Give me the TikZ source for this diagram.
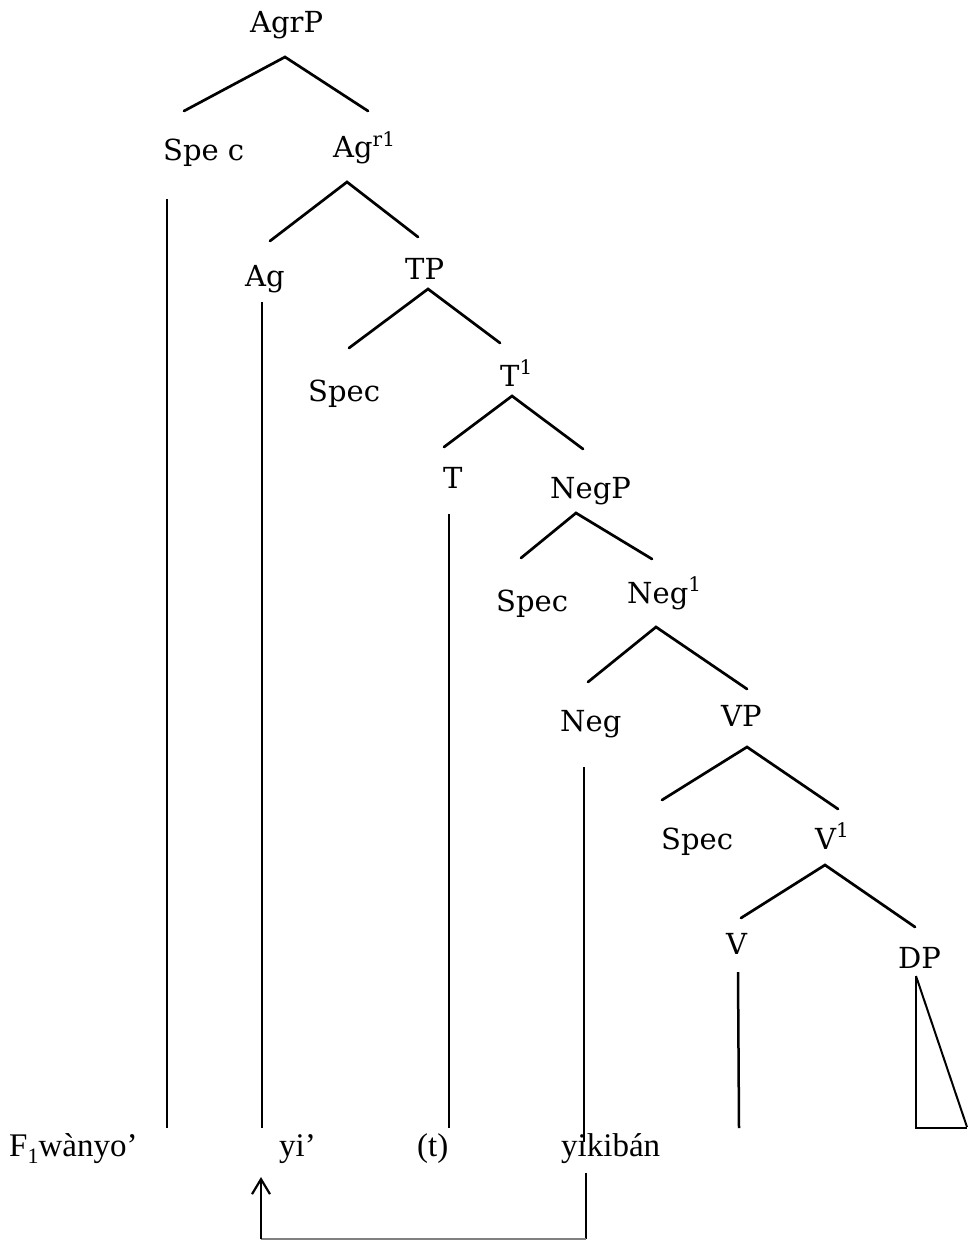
\documentclass[tikz,border=0pt]{standalone}
\usepackage{fontspec}
\setmainfont{DejaVu Serif}
\newfontfamily\glossfont{Liberation Serif}
\usetikzlibrary{arrows.meta}

% small raised / lowered index digits
\newcommand\hisup[1]{\raisebox{.40em}{\fontsize{20}{20}\selectfont #1}}
\newcommand\losub[1]{\raisebox{-.22em}{\fontsize{22}{22}\selectfont #1}}

\tikzset{
  cat/.style={anchor=base west, inner sep=0pt, font=\fontsize{29}{33}\selectfont},
  gloss/.style={anchor=base west, inner sep=0pt, font=\glossfont\fontsize{33}{38}\selectfont},
  branch/.style={line width=2.7pt, line cap=round, line join=miter},
  stem/.style={line width=2.5pt},
  movement/.style={line width=2.2pt},
}

\begin{document}
\begin{tikzpicture}[x=1pt, y=-1pt]
\useasboundingbox (0,0) rectangle (967,1241);

% category labels
\node[cat] (agrp)  at (250, 33)  {AgrP};
\node[cat] (specA) at (163,161)  {Spe c};
\node[cat] (agr1)  at (333,158)  {Ag\hisup{r1}};
\node[cat] (ag)    at (245,286)  {Ag};
\node[cat] (tp)    at (405,279)  {TP};
\node[cat] (specT) at (308,401)  {Spec};
\node[cat] (t1)    at (500,386)  {T\hisup{1}};
\node[cat] (t)     at (443,488)  {T};
\node[cat] (negp)  at (550,498)  {NegP};
\node[cat] (specN) at (496,611)  {Spec};
\node[cat] (neg1)  at (627,603)  {Neg\hisup{1}};
\node[cat] (neg)   at (560,731)  {Neg};
\node[cat] (vp)    at (721,726)  {VP};
\node[cat] (specV) at (661,849)  {Spec};
\node[cat] (v1)    at (815,849)  {V\hisup{1}};
\node[cat] (v)     at (726,954)  {V};
\node[cat] (dp)    at (898,968)  {DP};

% terminal words
\node[gloss] (w1) at (  9,1156) {F\losub{1}wànyo’};
\node[gloss] (w2) at (279,1156) {yi’};
\node[gloss] (w3) at (417,1156) {(t)};
\node[gloss] (w4) at (561,1156) {yikibán};

% branch points
\coordinate (agrp-b)  at (285, 57);
\coordinate (specA-t) at (184,111);
\coordinate (agr1-t)  at (368,111);
\coordinate (agr1-b)  at (347,182);
\coordinate (ag-t)    at (270,241);
\coordinate (tp-t)    at (418,237);
\coordinate (tp-b)    at (428,289);
\coordinate (specT-t) at (349,348);
\coordinate (t1-t)    at (500,343);
\coordinate (t1-b)    at (512,396);
\coordinate (t-t)     at (444,447);
\coordinate (negp-t)  at (583,449);
\coordinate (negp-b)  at (576,513);
\coordinate (specN-t) at (521,558);
\coordinate (neg1-t)  at (652,559);
\coordinate (neg1-b)  at (656,627);
\coordinate (neg-t)   at (588,682);
\coordinate (vp-t)    at (747,689);
\coordinate (vp-b)    at (747,747);
\coordinate (specV-t) at (662,800);
\coordinate (v1-t)    at (838,809);
\coordinate (v1-b)    at (825,865);
\coordinate (v-t)     at (741,918);
\coordinate (dp-t)    at (915,927);

\draw[branch] (specA-t) -- (agrp-b) -- (agr1-t);
\draw[branch] (ag-t)    -- (agr1-b) -- (tp-t);
\draw[branch] (specT-t) -- (tp-b)   -- (t1-t);
\draw[branch] (t-t)     -- (t1-b)   -- (negp-t);
\draw[branch] (specN-t) -- (negp-b) -- (neg1-t);
\draw[branch] (neg-t)   -- (neg1-b) -- (vp-t);
\draw[branch] (specV-t) -- (vp-b)   -- (v1-t);
\draw[branch] (v-t)     -- (v1-b)   -- (dp-t);

% lines down to the words
\coordinate (specA-d) at (167, 199);
\coordinate (w1-u)    at (167,1128);
\coordinate (ag-d)    at (262, 302);
\coordinate (w2-u)    at (262,1128);
\coordinate (t-d)     at (449, 514);
\coordinate (w3-u)    at (449,1128);
\coordinate (neg-d)   at (584, 767);
\coordinate (w4-u)    at (584,1142);
\coordinate (v-d)     at (738, 972);
\coordinate (v-e)     at (739,1128);

\draw[stem] (specA-d) -- (w1-u);
\draw[stem] (ag-d)    -- (w2-u);
\draw[stem] (t-d)     -- (w3-u);
\draw[stem] (neg-d)   -- (w4-u);
\draw[stem] (v-d)     -- (v-e);

% DP triangle
\coordinate (dp-d)  at (916, 976);
\coordinate (dp-bl) at (916,1128);
\coordinate (dp-br) at (967,1128);
\coordinate (dp-dr) at (967,1127);
\draw[stem] (dp-d) -- (dp-bl) -- (dp-br);
\draw[line width=2pt] (dp-d) -- (dp-dr);

% movement arrow
\coordinate (mv-s)  at (586,1173);
\coordinate (mv-c1) at (586,1239);
\coordinate (mv-c2) at (261,1239);
\coordinate (mv-e)  at (261,1177);
\draw[movement] (mv-s) -- (mv-c1);
\draw[line width=1.8pt, gray] (mv-c1) -- (mv-c2);
\draw[movement, -{Straight Barb[length=15pt, width=18pt, line width=2.2pt]}] (mv-c2) -- (mv-e);
\end{tikzpicture}
\end{document}
